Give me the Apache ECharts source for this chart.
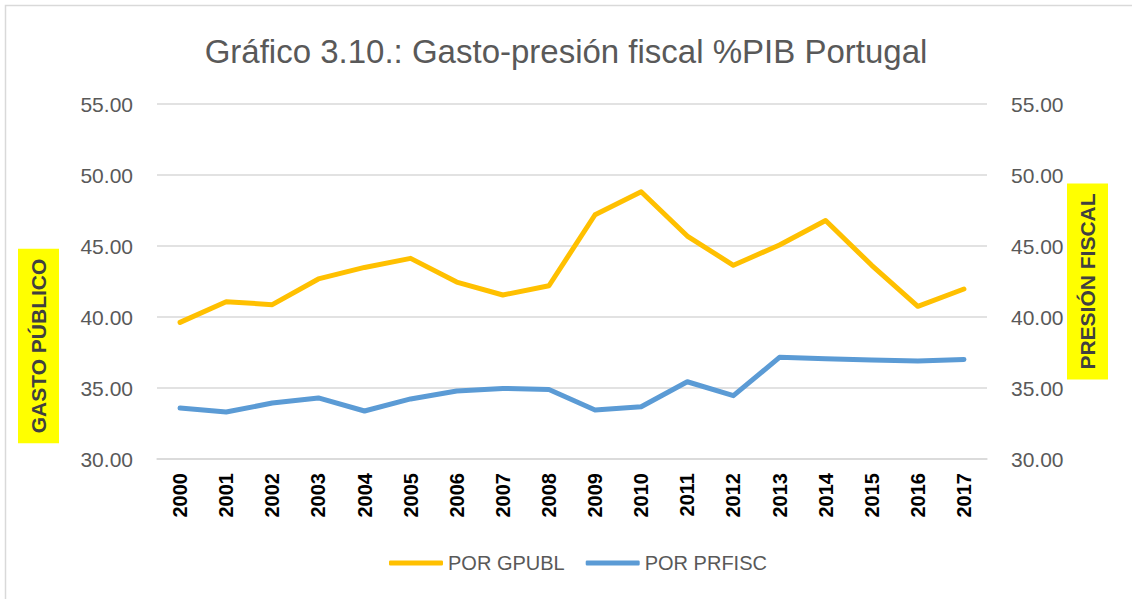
<!DOCTYPE html>
<html>
<head>
<meta charset="utf-8">
<script src="https://cdn.jsdelivr.net/npm/echarts@6/dist/echarts.min.js"></script>
<style>
  html, body { margin: 0; padding: 0; background: #fff; }
  #chart { width: 1132px; height: 599px; }
</style>
</head>
<body>
<div id="chart"></div>
<script>
// datos
var years = ['2000', '2001', '2002', '2003', '2004', '2005', '2006', '2007', '2008',
             '2009', '2010', '2011', '2012', '2013', '2014', '2015', '2016', '2017'];
var gastoPublico = [39.62, 41.08, 40.87, 42.68, 43.49, 44.13, 42.46, 41.55, 42.20,
                    47.20, 48.82, 45.70, 43.64, 45.07, 46.80, 43.64, 40.75, 41.97];
var presionFiscal = [33.59, 33.31, 33.94, 34.30, 33.38, 34.23, 34.79, 34.97, 34.90,
                     33.45, 33.68, 35.44, 34.46, 37.16, 37.06, 36.97, 36.90, 37.01];

var font = 'Liberation Sans, Arial, sans-serif';
var grey = '#595959';

var myChart = echarts.init(document.getElementById('chart'), null, { renderer: 'svg' });

var yLabel = {
    color: grey,
    fontSize: 21,
    fontFamily: font,
    margin: 24,
    formatter: function (v) { return v.toFixed(2); }
};

myChart.setOption({
    backgroundColor: '#fff',
    animation: false,
    title: {
        text: 'Gráfico 3.10.: Gasto-presión fiscal %PIB Portugal',
        left: 'center',
        top: 30,
        textStyle: { color: grey, fontSize: 33, fontWeight: 'normal', fontFamily: font }
    },
    legend: {
        bottom: 21,
        left: 384,
        itemWidth: 54,
        itemHeight: 5,
        itemGap: 21,
        icon: 'roundRect',
        textStyle: { color: grey, fontSize: 20, fontFamily: font },
        data: ['POR GPUBL', 'POR PRFISC']
    },
    grid: { left: 157, right: 145, top: 104, bottom: 140 },
    xAxis: {
        type: 'category',
        data: years,
        boundaryGap: true,
        axisLine: { lineStyle: { color: '#d9d9d9', width: 1.5 } },
        axisTick: { show: false },
        axisLabel: {
            rotate: 90,
            color: '#000',
            fontWeight: 'bold',
            fontSize: 20,
            fontFamily: font,
            margin: 14,
            interval: 0
        }
    },
    yAxis: [{
        type: 'value',
        min: 30,
        max: 55,
        interval: 5,
        axisLine: { show: false },
        axisTick: { show: false },
        axisLabel: yLabel,
        splitLine: { lineStyle: { color: '#d9d9d9', width: 1.5 } }
    }, {
        type: 'value',
        position: 'right',
        min: 30,
        max: 55,
        interval: 5,
        name: 'PRESIÓN FISCAL',
        nameLocation: 'middle',
        nameRotate: 90,
        nameGap: 80,
        nameMoveOverlap: false,
        nameTextStyle: {
            color: '#404040',
            fontWeight: 'bold',
            fontSize: 21,
            fontFamily: font,
            backgroundColor: '#ffff00',
            padding: [8, 10],
            lineHeight: 25
        },
        axisLine: { show: false },
        axisTick: { show: false },
        axisLabel: yLabel,
        splitLine: { show: false }
    }],
    graphic: [{
        type: 'rect',
        shape: { x: 5.5, y: 5.5, width: 1140, height: 600 },
        style: { fill: 'none', stroke: '#d9d9d9', lineWidth: 1.5 },
        silent: true
    }, {
        type: 'text',
        x: 38.5,
        y: 346,
        rotation: Math.PI / 2,
        style: {
            text: 'GASTO PÚBLICO',
            font: 'bold 21px ' + font,
            fill: '#404040',
            backgroundColor: '#ffff00',
            padding: [8, 10],
            lineHeight: 25,
            align: 'center',
            verticalAlign: 'middle'
        }
    }],
    series: [{
        name: 'POR GPUBL',
        type: 'line',
        yAxisIndex: 0,
        data: gastoPublico,
        symbol: 'none',
        color: '#ffc000',
        lineStyle: { width: 5, cap: 'round', join: 'round' }
    }, {
        name: 'POR PRFISC',
        type: 'line',
        yAxisIndex: 1,
        data: presionFiscal,
        symbol: 'none',
        color: '#5b9bd5',
        lineStyle: { width: 5, cap: 'round', join: 'round' }
    }]
});
</script>
</body>
</html>
